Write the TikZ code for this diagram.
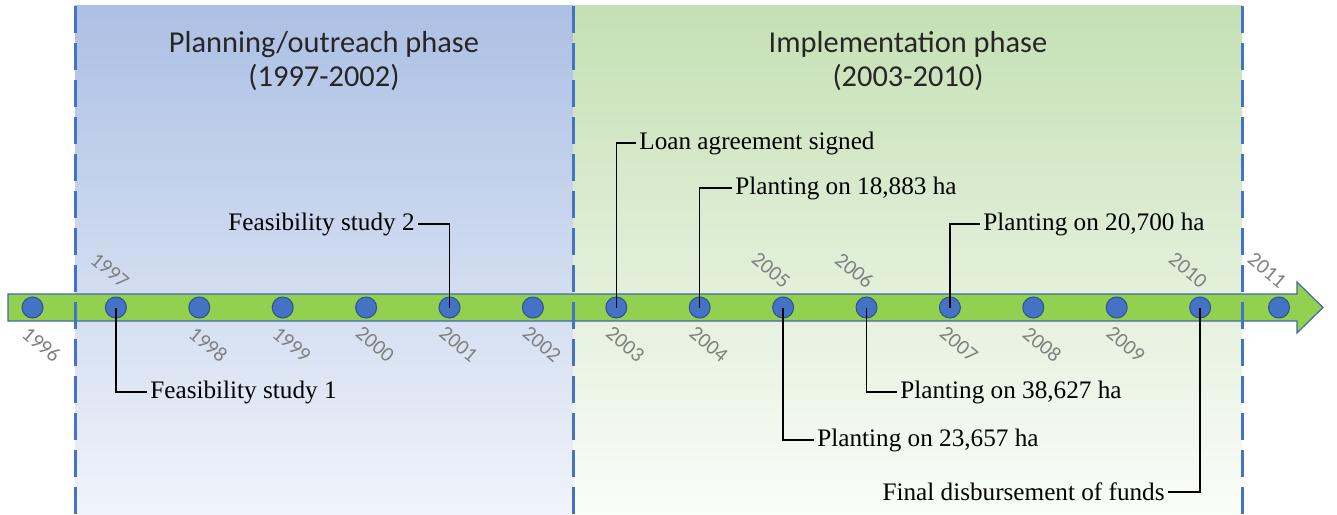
\documentclass[tikz,border=0pt]{standalone}
\usepackage{fontspec}
\setmainfont{Liberation Serif}
\newfontfamily\calfont{Carlito}
\usetikzlibrary{calc, positioning}
\definecolor{phaseblue}{RGB}{172,192,228}
\definecolor{phasegreen}{RGB}{197,224,180}
\definecolor{dashblue}{RGB}{68,114,196}
\definecolor{dotblue}{RGB}{68,114,196}
\definecolor{dotedge}{RGB}{47,82,143}
\definecolor{arrowgreen}{RGB}{146,208,80}
\definecolor{arrowedge}{RGB}{65,105,170}
\definecolor{yeargray}{RGB}{128,128,128}
\tikzset{
  yr/.style={circle, fill=dotblue, draw=dotedge, line width=0.5pt, minimum size=10.5pt, inner sep=0pt},
  yrtext/.style={text=yeargray, font=\calfont\fontsize{10.5}{11}\selectfont, rotate=-40, inner sep=0pt},
  event/.style={font=\fontsize{12.6}{14}\selectfont, inner sep=1.5pt},
  phase/.style={font=\calfont\fontsize{15.2}{17}\selectfont, align=center, text=black!85},
  callout/.style={line width=0.7pt},
  phaseline/.style={dashblue, line width=1.5pt, dash pattern=on 13.5pt off 5pt},
}

\begin{document}
\begin{tikzpicture}[x=0.5pt, y=-0.5pt]
\useasboundingbox (0,0) rectangle (1337,514);
% phases
\shade[top color=phaseblue, bottom color=phaseblue!18!white] (75,5) rectangle (573,514);
\shade[top color=phasegreen, bottom color=phasegreen!8!white] (573,5) rectangle (1242,514);
\node[phase] (plan) at (324,61) {Planning/outreach phase\\(1997-2002)};
\node[phase] (impl) at (908,61) {Implementation phase\\(2003-2010)};
% time line
\draw[fill=arrowgreen, draw=arrowedge, line width=0.6pt] (8,294) -- (1297,294) -- (1297,282) -- (1323,307.5) -- (1297,333) -- (1297,321) -- (8,321) -- cycle;
\foreach \yr [count=\i from 0] in {1996,...,2010} {
  \node[yr] (y\yr) at ({32.5+83.4*\i},307.5) {};
}
\node[yr] (y2011) at (1279,307.5) {};
\foreach \yr in {1996,1998,1999,2000,2001,2002,2003,2004,2007,2008,2009} {
  \node[yrtext] (l\yr) at ($(y\yr)+(9,37)$) {\yr};
}
\node[yrtext] (l1997) at ($(y1997)+(-6,-37)$) {1997};
\foreach \yr in {2005,2006,2010,2011} {
  \node[yrtext] (l\yr) at ($(y\yr)+(-12,-37)$) {\yr};
}
\draw[phaseline] (75,6) -- (75,514);
\draw[phaseline] (573,6) -- (573,514);
\draw[phaseline] (1242,6) -- (1242,514);
% events
\node[event, anchor=west] (fs1) at (147,392) {Feasibility study 1};
\node[event, anchor=east] (fs2) at (418,224) {Feasibility study 2};
\node[event, anchor=west] (loan) at (636,143) {Loan agreement signed};
\node[event, anchor=west] (p2004) at (732,188) {Planting on 18,883 ha};
\node[event, anchor=west] (p2005) at (814,440) {Planting on 23,657 ha};
\node[event, anchor=west] (p2006) at (897,392) {Planting on 38,627 ha};
\node[event, anchor=west] (p2007) at (980,224) {Planting on 20,700 ha};
\node[event, anchor=east] (fund) at (1168,492) {Final disbursement of funds};
\draw[callout] (y1997.center) |- (fs1.west);
\draw[callout] (y2001.center) |- (fs2.east);
\draw[callout] (y2003.center) |- (loan.west);
\draw[callout] (y2004.center) |- (p2004.west);
\draw[callout] (y2005.center) |- (p2005.west);
\draw[callout] (y2006.center) |- (p2006.west);
\draw[callout] (y2007.center) |- (p2007.west);
\draw[callout] (y2010.center) |- (fund.east);
\end{tikzpicture}
\end{document}
